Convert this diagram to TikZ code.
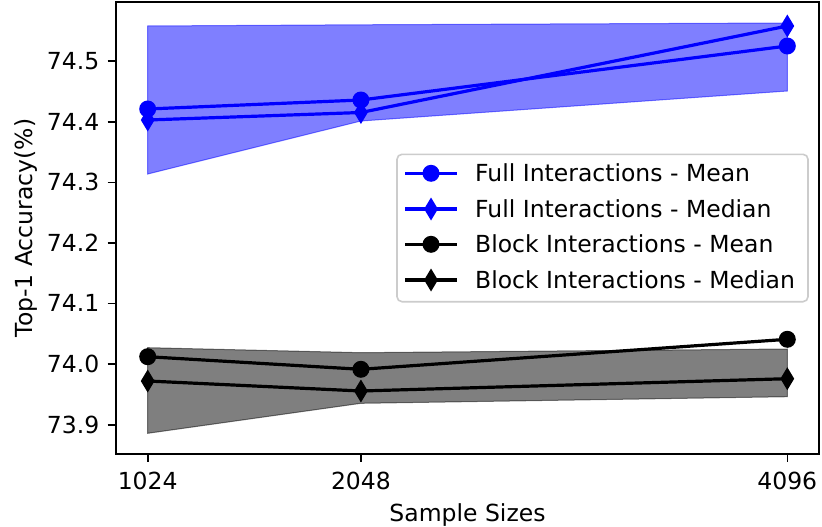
\documentclass[tikz,border=0pt]{standalone}
\usepackage{fontspec}
\setmainfont{DejaVu Sans}
\definecolor{mblue}{HTML}{0000FF}
\definecolor{legedge}{HTML}{CCCCCC}
\tikzset{
  every node/.style={inner sep=0pt, font=\fontsize{23.5}{28}\selectfont},
  spine/.style={line width=1.8pt, line cap=rect},
  tick/.style={line width=1.6pt},
  dataline/.style={line width=3.2pt, line join=round},
  band/.style={fill opacity=0.5, draw opacity=0.5, line width=1pt},
  pics/cmark/.style={code={\fill (0,0) circle (8.5);}},
  pics/dmark/.style={code={\fill (0,-11.5) -- (6.9,0) -- (0,11.5) -- (-6.9,0) -- cycle;}},
}
\begin{document}
\begin{tikzpicture}[x=1pt, y=-1pt]
\useasboundingbox (0,0) rectangle (822,527);
\fill[white] (0,0) rectangle (822,527);
% data pixel coordinates
\coordinate (fm1) at (147.7,109);   \coordinate (fm2) at (360.9,100);   \coordinate (fm3) at (787.3,46);
\coordinate (fd1) at (147.7,120);   \coordinate (fd2) at (360.9,112.5); \coordinate (fd3) at (787.3,26);
\coordinate (ft1) at (147.7,26);    \coordinate (ft2) at (360.9,24.8);  \coordinate (ft3) at (787.3,23);
\coordinate (fb1) at (147.7,174);   \coordinate (fb2) at (360.9,121);   \coordinate (fb3) at (787.3,91);
\coordinate (bm1) at (147.7,356.7); \coordinate (bm2) at (360.9,369.3); \coordinate (bm3) at (787.3,339.3);
\coordinate (bd1) at (147.7,381);   \coordinate (bd2) at (360.9,391);   \coordinate (bd3) at (787.3,378.7);
\coordinate (bt1) at (147.7,347.7); \coordinate (bt2) at (360.9,352.7); \coordinate (bt3) at (787.3,349);
\coordinate (bb1) at (147.7,433.3); \coordinate (bb2) at (360.9,403.3); \coordinate (bb3) at (787.3,396.7);
% bands
\path[band, fill=mblue, draw=mblue] (ft1) -- (ft2) -- (ft3) -- (fb3) -- (fb2) -- (fb1) -- cycle;
\path[band, fill=black, draw=black] (bt1) -- (bt2) -- (bt3) -- (bb3) -- (bb2) -- (bb1) -- cycle;
% lines
\draw[dataline, mblue] (fm1) -- (fm2) -- (fm3);
\foreach \p in {fm1,fm2,fm3} \pic[mblue] at (\p) {cmark};
\draw[dataline, mblue] (fd1) -- (fd2) -- (fd3);
\foreach \p in {fd1,fd2,fd3} \pic[mblue] at (\p) {dmark};
\draw[dataline, black] (bm1) -- (bm2) -- (bm3);
\foreach \p in {bm1,bm2,bm3} \pic[black] at (\p) {cmark};
\draw[dataline, black] (bd1) -- (bd2) -- (bd3);
\foreach \p in {bd1,bd2,bd3} \pic[black] at (\p) {dmark};
% axes
\draw[spine] (115.7,1.7) rectangle (819.3,454.3);
\foreach \x/\l [count=\i] in {147.7/1024,360.9/2048,787.3/4096}{
  \draw[tick] (\x,454.3) -- (\x,462.3);
  \node[anchor=base] (xt\i) at (\x,489.3) {\l};
}
\foreach \y/\l [count=\i] in {61/74.5,121.7/74.4,182.3/74.3,243/74.2,303.3/74.1,364/74.0,424.7/73.9}{
  \draw[tick] (107.7,\y) -- (115.7,\y);
  \node[anchor=east] (yt\i) at (99.5,\y) {\l};
}
\node[anchor=base] (xlab) at (467.5,521.7) {Sample Sizes};
\node[anchor=base, rotate=90] (ylab) at (32.3,228) {Top-1 Accuracy(\%)};
% legend
\draw[rounded corners=5, draw=legedge, line width=1.6pt, fill=white, fill opacity=0.8] (397,154.3) rectangle (808,301.7);
\foreach \yy/\c/\m/\t [count=\i] in {173.3/mblue/cmark/Full Interactions - Mean,209/mblue/dmark/Full Interactions - Median,244.3/black/cmark/Block Interactions - Mean,280/black/dmark/Block Interactions - Median}{
  \draw[dataline, \c] (405,\yy) -- (457,\yy);
  \pic[\c] at (431,\yy) {\m};
  \node[anchor=base west] (leg\i) at (475,\yy+8.6) {\t};
}
\end{tikzpicture}
\end{document}
